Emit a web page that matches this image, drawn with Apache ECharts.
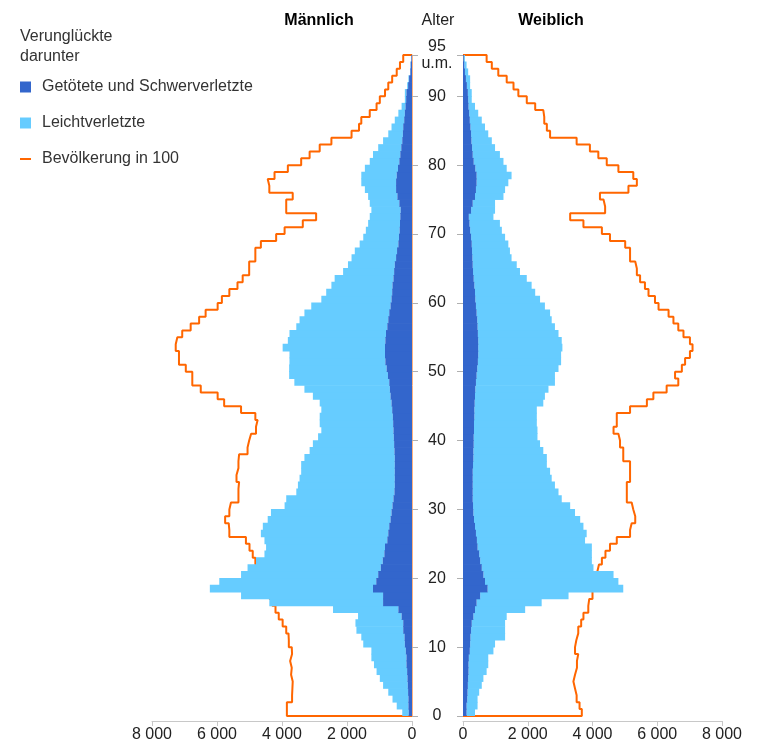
<!DOCTYPE html>
<html><head><meta charset="utf-8">
<script src="https://cdn.jsdelivr.net/npm/echarts@6/dist/echarts.min.js"></script>
<style>html,body{margin:0;padding:0;background:#fff}#c{width:758px;height:749px}</style>
</head><body><div id="c"></div>
<script>
// Age categories 0 .. 95 (95 = "95 u.m.")
const ages = Array.from({length: 96}, (_, i) => String(i));
// tick positions are age-band edges (96 = top edge of "95 u.m.")
const tickEdges = [0, 10, 20, 30, 40, 50, 60, 70, 80, 90, 96];
const tickLabels = ['0', '10', '20', '30', '40', '50', '60', '70', '80', '90', '95\nu.m.'];
const xTicks = [0, 2000, 4000, 6000, 8000];

// Verunglückte insgesamt (Männlich)
const maleTotal = [300,470,600,730,890,990,1090,1170,1250,1250, 1500,1560,1710,1740,1660,2430,4390,5260,6220,5930,
  5260,5060,4800,4540,4490,4540,4650,4590,4440,4340, 3920,3870,3560,3510,3460,3410,3410,3310,3150,3050,
  2890,2790,2840,2840,2790,2840,3050,3310,3620,3780, 3780,3770,3770,3980,3820,3770,3560,3460,3310,3100,
  2790,2640,2480,2380,2120,1970,1860,1760,1610,1500, 1420,1350,1300,1250,1300,1350,1450,1560,1560,1450,
  1300,1200,1040,890,730,630,530,420,320,220, 220,150,110,60,50,30];
// Getötete und Schwerverletzte (Männlich)
const maleSevere = [100,110,110,120,130,140,150,170,170,190, 220,230,270,270,320,420,890,890,1200,1100,
  1040,960,900,850,830,760,730,700,660,630, 600,570,540,530,530,530,530,530,540,550,
  560,570,580,590,610,630,660,680,700,740, 780,820,830,830,820,800,760,730,700,660,
  630,610,600,570,550,530,490,460,420,400, 380,370,360,350,390,450,490,490,470,430,
  390,360,330,300,280,270,240,220,200,180, 170,120,90,50,40,20];
// Bevölkerung in 100 (Männlich)
const malePop = [3850,3850,3690,3680,3670,3720,3700,3750,3690,3700, 3790,3800,3870,3980,4100,4200,4300,4380,4450,4550,
  4650,4750,4820,4900,5000,5110,5620,5640,5750,5620, 5570,5340,5340,5320,5400,5340,5340,5320,5060,5010,
  4950,4800,4750,4820,5260,5780,5980,6500,6760,6760, 6960,7170,7170,7270,7220,7070,6810,6550,6350,5980,
  5850,5620,5370,5210,5010,5010,4820,4820,4650,4180, 3920,3360,2950,3870,3870,3670,4390,4440,4230,3820,
  3410,3150,2840,2480,1860,1630,1560,1300,1090,990, 830,730,610,470,370,270];

// Verunglückte insgesamt (Weiblich)
const femaleTotal = [370,450,450,500,580,630,730,780,780,940, 990,1300,1300,1300,1350,1920,2430,3260,4950,4800,
  4650,4030,3980,3980,3980,3770,3820,3720,3620,3460, 3310,3050,2950,2840,2740,2690,2590,2590,2480,2380,
  2300,2300,2280,2280,2280,2480,2530,2640,2840,2840, 2950,3030,3030,3070,3050,2950,2840,2740,2690,2530,
  2380,2230,2120,1970,1760,1660,1500,1450,1400,1300, 1200,1140,940,990,990,1250,1300,1400,1500,1350,
  1250,1140,990,890,780,680,580,470,370,270, 270,220,220,160,110,60];
// Getötete und Schwerverletzte (Weiblich)
const femaleSevere = [110,110,130,140,150,160,170,170,180,210, 220,230,250,270,320,370,420,530,760,680,
  630,580,530,500,450,430,400,370,340,320, 310,300,300,300,300,300,310,320,320,330,
  330,340,340,350,350,360,370,380,400,420, 440,460,470,470,470,460,450,440,420,400,
  380,370,350,330,310,300,290,280,270,250, 220,200,180,250,300,370,400,420,420,380,
  330,300,280,260,250,230,210,190,170,160, 150,120,90,60,40,20];
// Bevölkerung in 100 (Weiblich)
const femalePop = [3670,3600,3510,3460,3410,3460,3520,3520,3560,3460, 3500,3560,3560,3650,3720,3870,3900,4000,4060,4100,
  4150,4200,4290,4400,4540,4750,5160,5210,5320,5260, 5210,5060,5060,5060,5160,5160,5160,4950,4950,4850,
  4800,4650,4750,4750,5160,5680,5880,6290,6650,6550, 6760,6860,7010,7090,7010,6810,6650,6500,6350,6040,
  5930,5730,5620,5470,5370,5320,5160,5160,5010,4540, 4290,3720,3310,4390,4340,4230,5110,5370,5260,4800,
  4440,4180,3920,3510,2690,2590,2510,2480,2230,1970, 1710,1560,1350,1090,890,730];

const FONT = '"Liberation Sans", Arial, sans-serif';
const C_DARK = '#3366cc', C_LIGHT = '#66ccff', C_POP = '#ff6600';
const N_SEVERE = 'Getötete und Schwerverletzte', N_LIGHT = 'Leichtverletzte', N_POP = 'Bevölkerung in 100';

const lightOf = (tot, sev) => tot.map((v, i) => Math.max(0, v - sev[i]));
const stepPath = (pop) => {
  const p = [[0, 0]];
  pop.forEach((v, i) => { p.push([v, i], [v, i + 1]); });
  p.push([0, pop.length]);
  return p;
};
const edges = Array.from({length: ages.length + 1}, (_, i) => String(i));
const isTick = (i) => tickEdges.indexOf(i) >= 0;
const fmtX = (v) => String(v).replace(/\B(?=(\d{3})+(?!\d))/g, ' ');

function xAxisCfg(grid, inverse) {
  return {
    gridIndex: grid, type: 'value', min: xTicks[0], max: xTicks[xTicks.length - 1], interval: 2000,
    inverse: inverse, position: 'bottom', offset: 5,
    axisLine: {show: true, onZero: false, lineStyle: {color: '#c8c8c8', width: 1}},
    axisTick: {show: true, length: 5, lineStyle: {color: '#c8c8c8'}},
    splitLine: {show: false},
    axisLabel: {color: '#222', fontSize: 16, fontFamily: FONT, margin: 6, formatter: fmtX}
  };
}
function labelAxis(grid, pos, showLabels) {
  return {
    gridIndex: grid, type: 'category', data: edges, boundaryGap: false, position: pos,
    axisLine: {show: true, onZero: false, lineStyle: {color: '#ffb27f', width: 1}},
    axisTick: {show: true, interval: (i) => isTick(i), length: 6, lineStyle: {color: '#b0b0b0'}},
    axisLabel: {show: showLabels, interval: (i) => isTick(i), align: 'center', margin: 25,
      fontSize: 16, lineHeight: 17, color: '#222', fontFamily: FONT,
      formatter: (v) => { const k = tickEdges.indexOf(Number(v)); return k >= 0 ? tickLabels[k] : ''; }},
    splitLine: {show: false}
  };
}
function seriesFor(grid, yCat, yVal, tot, sev, pop) {
  return [
    {name: N_SEVERE, type: 'bar', xAxisIndex: grid, yAxisIndex: yCat, stack: 's' + grid, data: sev,
      barWidth: 7.6, itemStyle: {color: C_DARK}, z: 3, silent: true},
    {name: N_LIGHT, type: 'bar', xAxisIndex: grid, yAxisIndex: yCat, stack: 's' + grid, data: lightOf(tot, sev),
      barWidth: 7.6, itemStyle: {color: C_LIGHT}, z: 2, silent: true},
    {name: N_POP, type: 'line', xAxisIndex: grid, yAxisIndex: yVal, data: stepPath(pop), symbol: 'none',
      clip: false, lineStyle: {color: C_POP, width: 2}, itemStyle: {color: C_POP}, z: 1, silent: true}
  ];
}
function legendItem(name, icon, top) {
  return {data: [{name: name, icon: icon}], left: 20, top: top, orient: 'vertical', padding: 0,
    itemWidth: 11, itemHeight: 11, selectedMode: false, symbolKeepAspect: true,
    textStyle: {fontSize: 16, color: '#333', fontFamily: FONT, padding: [0, 0, 0, 6]}};
}

const chart = echarts.init(document.getElementById('c'), null, {renderer: 'canvas'});
chart.setOption({
  animation: false,
  backgroundColor: '#fff',
  textStyle: {fontFamily: FONT},
  title: [
    {text: 'Verunglückte\ndarunter', left: 20, top: 27, padding: 0,
      textStyle: {fontSize: 16, fontWeight: 'normal', color: '#333', lineHeight: 20, fontFamily: FONT}},
    {text: 'Männlich', left: 319, top: 12, padding: 0, textAlign: 'center',
      textStyle: {fontSize: 16, fontWeight: 'bold', color: '#000', lineHeight: 18, fontFamily: FONT}},
    {text: 'Alter', left: 438, top: 12, padding: 0, textAlign: 'center',
      textStyle: {fontSize: 16, fontWeight: 'normal', color: '#222', lineHeight: 18, fontFamily: FONT}},
    {text: 'Weiblich', left: 551, top: 12, padding: 0, textAlign: 'center',
      textStyle: {fontSize: 16, fontWeight: 'bold', color: '#000', lineHeight: 18, fontFamily: FONT}}
  ],
  legend: [
    legendItem(N_SEVERE, 'rect', 79),
    legendItem(N_LIGHT, 'rect', 115),
    legendItem(N_POP, 'path://M0,0H11V2H0Z', 151)
  ],
  grid: [
    {left: 152, top: 55, width: 260, height: 661, containLabel: false},
    {left: 463, top: 55, width: 259, height: 661, containLabel: false}
  ],
  xAxis: [xAxisCfg(0, true), xAxisCfg(1, false)],
  yAxis: [
    {gridIndex: 0, type: 'category', data: ages, show: false},
    {gridIndex: 0, type: 'value', min: 0, max: ages.length, show: false},
    labelAxis(0, 'right', true),
    {gridIndex: 1, type: 'category', data: ages, show: false},
    {gridIndex: 1, type: 'value', min: 0, max: ages.length, show: false},
    labelAxis(1, 'left', false)
  ],
  series: [].concat(
    seriesFor(0, 0, 1, maleTotal, maleSevere, malePop),
    seriesFor(1, 3, 4, femaleTotal, femaleSevere, femalePop)
  )
});
</script>
</body></html>
